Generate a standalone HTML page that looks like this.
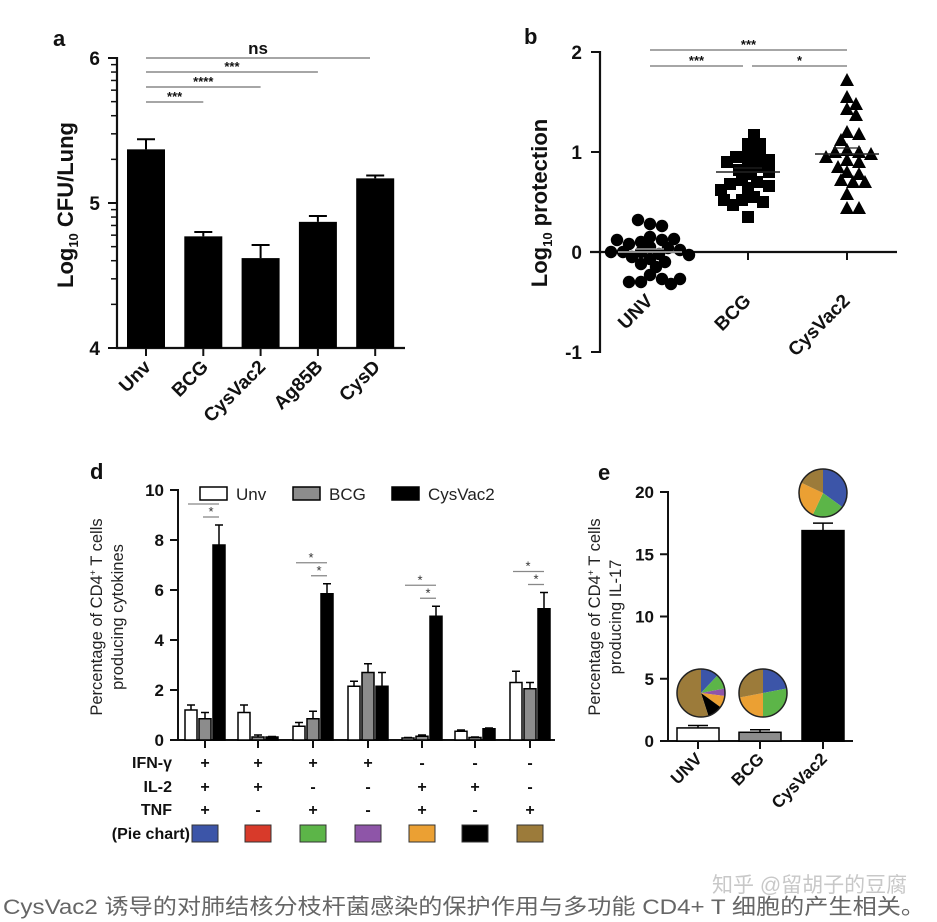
<!DOCTYPE html>
<html><head><meta charset="utf-8"><style>
html,body{margin:0;padding:0;background:#fff;}
svg{display:block;font-family:"Liberation Sans",Arial,sans-serif;}
.t{font-weight:bold;fill:#111;}
</style></head><body>
<svg id="fig" width="937" height="922" viewBox="0 0 937 922" xmlns="http://www.w3.org/2000/svg">
<g id="pa"></g>
<g id="pb"></g>
<g id="pd"></g>
<g id="pe"></g>
<text x="712" y="892" font-size="21" fill="#c8c8c8" font-family="'Liberation Sans','Noto Sans CJK SC',sans-serif">知乎 @留胡子的豆腐</text>
<text x="3" y="914" font-size="21.5" fill="#666" textLength="922" lengthAdjust="spacingAndGlyphs" font-family="'Liberation Sans','Noto Sans CJK SC',sans-serif">CysVac2 诱导的对肺结核分枝杆菌感染的保护作用与多功能 CD4+ T 细胞的产生相关。</text>
</svg>
<script>
// ---- Panel a data
const aCats=["Unv","BCG","CysVac2","Ag85B","CysD"];
const aVals=[5.37,4.77,4.62,4.87,5.17];
const aErr=[0.07,0.03,0.09,0.04,0.02];
const aTicks=[4,5,6];
// ---- Panel b data
const bCats=["UNV","BCG","CysVac2"];
const bUNV=[0.28,0.26,0.32,0.15,0.12,0.1,0.08,0.05,0.04,0.02,0,0,-0.02,-0.03,-0.05,-0.07,-0.1,-0.12,-0.15,0.13,0.12,0.0,-0.23,-0.27,-0.3,-0.32,-0.3,-0.27];
const bBCG=[1.08,1.08,1.17,0.98,0.97,0.95,0.92,0.9,0.88,0.85,0.82,0.8,0.78,0.72,0.7,0.68,0.66,0.64,0.62,0.55,0.52,0.5,0.47,0.52,0.35];
const bCys=[1.72,1.55,1.48,1.43,1.37,1.2,1.18,1.12,1.02,1.0,1.0,0.98,0.95,0.92,0.9,0.85,0.8,0.78,0.72,0.7,0.7,0.58,0.44,0.44];
const bMeans=[0,0.8,0.98];
const bSem=[0.03,0.04,0.06];
const bTicks=[-1,0,1,2];
// ---- Panel d data
const dUnv=[1.2,1.1,0.55,2.15,0.08,0.35,2.3];
const dUnvErr=[0.2,0.3,0.15,0.2,0.02,0.05,0.45];
const dBCG=[0.85,0.12,0.85,2.7,0.15,0.1,2.05];
const dBCGErr=[0.25,0.08,0.3,0.35,0.05,0.02,0.25];
const dCys=[7.8,0.12,5.85,2.15,4.95,0.45,5.25];
const dCysErr=[0.8,0.02,0.4,0.55,0.4,0.03,0.65];
const dIFN=["+","+","+","+","-","-","-"];
const dIL2=["+","+","-","-","+","+","-"];
const dTNF=["+","-","+","-","+","-","+"];
const dTicks=[0,2,4,6,8,10];
// ---- Panel e data
const eCats=["UNV","BCG","CysVac2"];
const eVals=[1.05,0.7,16.9];
const eErr=[0.2,0.2,0.6];
const eTicks=[0,5,10,15,20];
// order: blue, red, green, purple, orange, black, brown
const pieUNV=[12,0,10,5,8,10,55];
const pieBCG=[22,0,28,0,22,0,28];
const pieCys=[35,0,22,0,25,0,18];
const pieColors=["#3c55a8","#d83a2a","#5cb548","#8e55a8","#eba033","#000000","#9c7b3a"];

const NS="http://www.w3.org/2000/svg";
function el(p,tag,at,txt){const e=document.createElementNS(NS,tag);for(const k in at)e.setAttribute(k,at[k]);if(txt!==undefined)e.textContent=txt;p.appendChild(e);return e;}
const G="#888";

// ===== Panel a
(function(){
const g=document.getElementById('pa');
const y=v=>348-(v-4)*145, x=i=>146+i*57.3;
let t=el(g,'text',{x:53,y:46,'font-size':22,class:'t'},'a');

el(g,'line',{x1:117,y1:57,x2:117,y2:349,stroke:'#111','stroke-width':2.2});
el(g,'line',{x1:116,y1:348,x2:405,y2:348,stroke:'#111','stroke-width':2.2});
for(let d=4;d<6;d++)for(let m=1;m<9;m++){const yy=y(d+Math.log10(m+1));el(g,'line',{x1:111,y1:yy,x2:117,y2:yy,stroke:'#111','stroke-width':1.5});}
aTicks.forEach(v=>{el(g,'line',{x1:108,y1:y(v),x2:117,y2:y(v),stroke:'#111','stroke-width':2});
 const tt=el(g,'text',{x:100,y:y(v)+7,'font-size':19,'text-anchor':'end',class:'t'},v);
 });
aCats.forEach((c,i)=>{
 const b=el(g,'rect',{x:x(i)-19,y:y(aVals[i]),width:38,height:348-y(aVals[i]),fill:'#000'});
 
 const ye=y(aVals[i]+aErr[i]);
 el(g,'line',{x1:x(i),y1:y(aVals[i]),x2:x(i),y2:ye,stroke:'#000','stroke-width':2});
 el(g,'line',{x1:x(i)-9,y1:ye,x2:x(i)+9,y2:ye,stroke:'#000','stroke-width':2});
 el(g,'line',{x1:x(i),y1:348,x2:x(i),y2:356,stroke:'#111','stroke-width':2});
 const tl=el(g,'text',{x:x(i)+6,y:368,'font-size':19,'text-anchor':'end',class:'t',transform:`rotate(-45 ${x(i)+6} 368)`},c);
 });
const yt=el(g,'text',{x:0,y:0,'font-size':22,'text-anchor':'middle',class:'t',transform:'translate(73 205) rotate(-90)'});

el(yt,'tspan',{},'Log');el(yt,'tspan',{'font-size':13,dy:5},'10');el(yt,'tspan',{dy:-5},' CFU/Lung');
const sig=[[58,4,'ns',-4,17],[72,3,'***',-1,13],[87,2,'****',-1,13],[102,1,'***',-1,13]];
sig.forEach(s=>{const xe=s[1]===4?370:x(s[1]);el(g,'line',{x1:146,y1:s[0],x2:xe,y2:s[0],stroke:G,'stroke-width':1.5});
 const xm=s[1]===4?258:(146+xe)/2;
 const st=el(g,'text',{x:xm,y:s[0]+s[3],'font-size':s[4],'text-anchor':'middle',class:'t',fill:'#444'},s[2]);
 });
})();

// ===== Panel b
(function(){
const g=document.getElementById('pb');
const y=v=>252-v*100, cx=[650,748,847];
let t=el(g,'text',{x:524,y:44,'font-size':22,class:'t'},'b');

el(g,'line',{x1:600,y1:51,x2:600,y2:353,stroke:'#111','stroke-width':2.2});
el(g,'line',{x1:590,y1:252,x2:897,y2:252,stroke:'#111','stroke-width':2.2});
bTicks.forEach(v=>{el(g,'line',{x1:591,y1:y(v),x2:600,y2:y(v),stroke:'#111','stroke-width':2});
 const tt=el(g,'text',{x:582,y:y(v)+7,'font-size':19,'text-anchor':'end',class:'t'},v);
 });
[1,2].forEach(i=>el(g,'line',{x1:cx[i],y1:252,x2:cx[i],y2:260,stroke:'#111','stroke-width':2}));
bCats.forEach((c,i)=>{const tl=el(g,'text',{x:cx[i]+4,y:302,'font-size':19,'text-anchor':'end',class:'t',transform:`rotate(-45 ${cx[i]+4} 302)`},c);
 });
const yt=el(g,'text',{x:0,y:0,'font-size':22,'text-anchor':'middle',class:'t',transform:'translate(547 203) rotate(-90)'});

el(yt,'tspan',{},'Log');el(yt,'tspan',{'font-size':13,dy:5},'10');el(yt,'tspan',{dy:-5},' protection');
function swarm(vals,c){const placed=[];const D=10;
 vals.forEach(v=>{const py=y(v);let best=null;
  for(let k=0;k<40&&best===null;k++){const off=(k%2?1:-1)*Math.ceil(k/2)*3;const px=c+off;
   if(placed.every(p=>Math.hypot(p[0]-px,p[1]-py)>=D))best=px;}
  if(best===null)best=c;placed.push([best,py]);});return placed;}
const groups=[bUNV,bBCG,bCys];
groups.forEach((vals,gi)=>{
 swarm(vals,cx[gi]).forEach(([px,py])=>{let m;
  if(gi===0)m=el(g,'circle',{cx:px,cy:py,r:6.2,fill:'#000'});
  else if(gi===1)m=el(g,'rect',{x:px-6,y:py-6,width:12,height:12,fill:'#000'});
  else m=el(g,'path',{d:`M${px} ${py-7}L${px+7} ${py+6}L${px-7} ${py+6}Z`,fill:'#000'});
  });
 const ym=y(bMeans[gi]);
 el(g,'line',{x1:cx[gi]-32,y1:ym,x2:cx[gi]+32,y2:ym,stroke:gi===0?'#bbb':'#222','stroke-width':1.6});
 el(g,'line',{x1:cx[gi]-14,y1:y(bMeans[gi]+bSem[gi]),x2:cx[gi]+14,y2:y(bMeans[gi]+bSem[gi]),stroke:gi===0?'#bbb':'#222','stroke-width':1.3});
});
[[50,650,847,'***'],[66,650,743,'***'],[66,752,847,'*']].forEach(s=>{
 el(g,'line',{x1:s[1],y1:s[0],x2:s[2],y2:s[0],stroke:G,'stroke-width':1.5});
 const st=el(g,'text',{x:(s[1]+s[2])/2,y:s[0]-1,'font-size':13,'text-anchor':'middle',class:'t',fill:'#444'},s[3]);
 });
})();

// ===== Panel d
(function(){
const g=document.getElementById('pd');
const y=v=>740-v*25, cx=[205,258,313,368,422,475,530];
let t=el(g,'text',{x:90,y:479,'font-size':22,class:'t'},'d');

el(g,'line',{x1:178,y1:489,x2:178,y2:741,stroke:'#111','stroke-width':2});
el(g,'line',{x1:177,y1:740,x2:555,y2:740,stroke:'#111','stroke-width':2});
dTicks.forEach(v=>{el(g,'line',{x1:170,y1:y(v),x2:178,y2:y(v),stroke:'#111','stroke-width':2});
 const tt=el(g,'text',{x:164,y:y(v)+6,'font-size':17,'text-anchor':'end',class:'t'},v);
 });
const yt=el(g,'text',{x:0,y:0,'font-size':16.5,'text-anchor':'middle',fill:'#222',transform:'translate(102 617) rotate(-90)'});

el(yt,'tspan',{x:0,dy:0},'Percentage of CD4');el(yt,'tspan',{'font-size':9,dy:-6},'+');el(yt,'tspan',{dy:6},' T cells');
el(yt,'tspan',{x:0,dy:21},'producing cytokines');
const series=[[dUnv,dUnvErr,'#fff','unv',-14],[dBCG,dBCGErr,'#8c8c8c','bcg',0],[dCys,dCysErr,'#000','cysvac2',14]];
cx.forEach((c,i)=>{
 series.forEach(s=>{const v=s[0][i],bx=c+s[4]-6,by=y(v);
  const ye=y(v+s[1][i]);
  el(g,'line',{x1:c+s[4],y1:by,x2:c+s[4],y2:ye,stroke:'#000','stroke-width':1.5});
  el(g,'line',{x1:c+s[4]-4,y1:ye,x2:c+s[4]+4,y2:ye,stroke:'#000','stroke-width':1.5});
  const b=el(g,'rect',{x:bx,y:by,width:12,height:740-by,fill:s[2],stroke:'#000','stroke-width':1.5});
  });
 el(g,'line',{x1:c,y1:740,x2:c,y2:748,stroke:'#111','stroke-width':2});
 [[dIFN,768],[dIL2,792],[dTNF,815]].forEach(r=>{const tt=el(g,'text',{x:c,y:r[1],'font-size':16,'text-anchor':'middle',class:'t'},r[0][i]);
  });
 const sw=el(g,'rect',{x:c-13,y:825,width:26,height:17,fill:pieColors[i],stroke:'#333','stroke-width':1});
 
 if(dCys[i]>4){const top=y(dCys[i]+dCysErr[i]);
  el(g,'line',{x1:c-17,y1:top-21,x2:c+14,y2:top-21,stroke:G,'stroke-width':1.3});
  el(g,'line',{x1:c-2,y1:top-8,x2:c+14,y2:top-8,stroke:G,'stroke-width':1.3});
  el(g,'text',{x:c-2,y:top-22,'font-size':13,'text-anchor':'middle',fill:'#333'},'*');
  el(g,'text',{x:c+6,y:top-9,'font-size':13,'text-anchor':'middle',fill:'#333'},'*');}
});
[['IFN-γ',768],['IL-2',792],['TNF',815],['(Pie chart)',839]].forEach(r=>{const tt=el(g,'text',{x:r[0]==='(Pie chart)'?190:172,y:r[1],'font-size':16,'text-anchor':'end',class:'t'},r[0]);
 });
[[200,'#fff','Unv','unv'],[293,'#8c8c8c','BCG','bcg'],[392,'#000','CysVac2','cysvac2']].forEach(l=>{
 const lg=el(g,'g',{});
 el(lg,'rect',{x:l[0],y:487,width:27,height:13,fill:l[1],stroke:'#000','stroke-width':1.5});
 el(lg,'text',{x:l[0]+36,y:500,'font-size':17,fill:'#222'},l[2]);});
})();

// ===== Panel e
(function(){
const g=document.getElementById('pe');
const y=v=>741-v*12.45, cx=[698,760,823];
let t=el(g,'text',{x:598,y:480,'font-size':22,class:'t'},'e');

el(g,'line',{x1:668,y1:491,x2:668,y2:742,stroke:'#111','stroke-width':2});
el(g,'line',{x1:667,y1:741,x2:853,y2:741,stroke:'#111','stroke-width':2});
eTicks.forEach(v=>{el(g,'line',{x1:660,y1:y(v),x2:668,y2:y(v),stroke:'#111','stroke-width':2});
 const tt=el(g,'text',{x:654,y:y(v)+6,'font-size':17,'text-anchor':'end',class:'t'},v);
 });
const yt=el(g,'text',{x:0,y:0,'font-size':16.5,'text-anchor':'middle',fill:'#222',transform:'translate(600 617) rotate(-90)'});

el(yt,'tspan',{x:0,dy:0},'Percentage of CD4');el(yt,'tspan',{'font-size':9,dy:-6},'+');el(yt,'tspan',{dy:6},' T cells');
el(yt,'tspan',{x:0,dy:21},'producing IL-17');
const fills=['#fff','#8c8c8c','#000'];
eCats.forEach((c,i)=>{const v=eVals[i],by=y(v),ye=y(v+eErr[i]);
 el(g,'line',{x1:cx[i],y1:by,x2:cx[i],y2:ye,stroke:'#000','stroke-width':1.5});
 el(g,'line',{x1:cx[i]-10,y1:ye,x2:cx[i]+10,y2:ye,stroke:'#000','stroke-width':1.5});
 const b=el(g,'rect',{x:cx[i]-21,y:by,width:42,height:741-by,fill:fills[i],stroke:'#000','stroke-width':1.5});
 
 el(g,'line',{x1:cx[i],y1:741,x2:cx[i],y2:749,stroke:'#111','stroke-width':2});
 const tl=el(g,'text',{x:cx[i]+5,y:760,'font-size':17,'text-anchor':'end',class:'t',transform:`rotate(-45 ${cx[i]+5} 760)`},c);
 });
function pie(px,py,r,vals,name){const pg=el(g,'g',{});
 const tot=vals.reduce((a,b)=>a+b,0);let a0=0;
 vals.forEach((v,k)=>{if(!v)return;const a1=a0+v/tot*2*Math.PI;
  const x0=px+r*Math.sin(a0),y0=py-r*Math.cos(a0),x1=px+r*Math.sin(a1),y1=py-r*Math.cos(a1);
  el(pg,'path',{d:`M${px} ${py}L${x0} ${y0}A${r} ${r} 0 ${a1-a0>Math.PI?1:0} 1 ${x1} ${y1}Z`,fill:pieColors[k]});a0=a1;});
 el(pg,'circle',{cx:px,cy:py,r:r,fill:'none',stroke:'#222','stroke-width':1.5});}
pie(701,693,24,pieUNV,'pie-unv');
pie(763,693,24,pieBCG,'pie-bcg');
pie(823,493,24,pieCys,'pie-cysvac2');
})();
</script>
</body></html>
